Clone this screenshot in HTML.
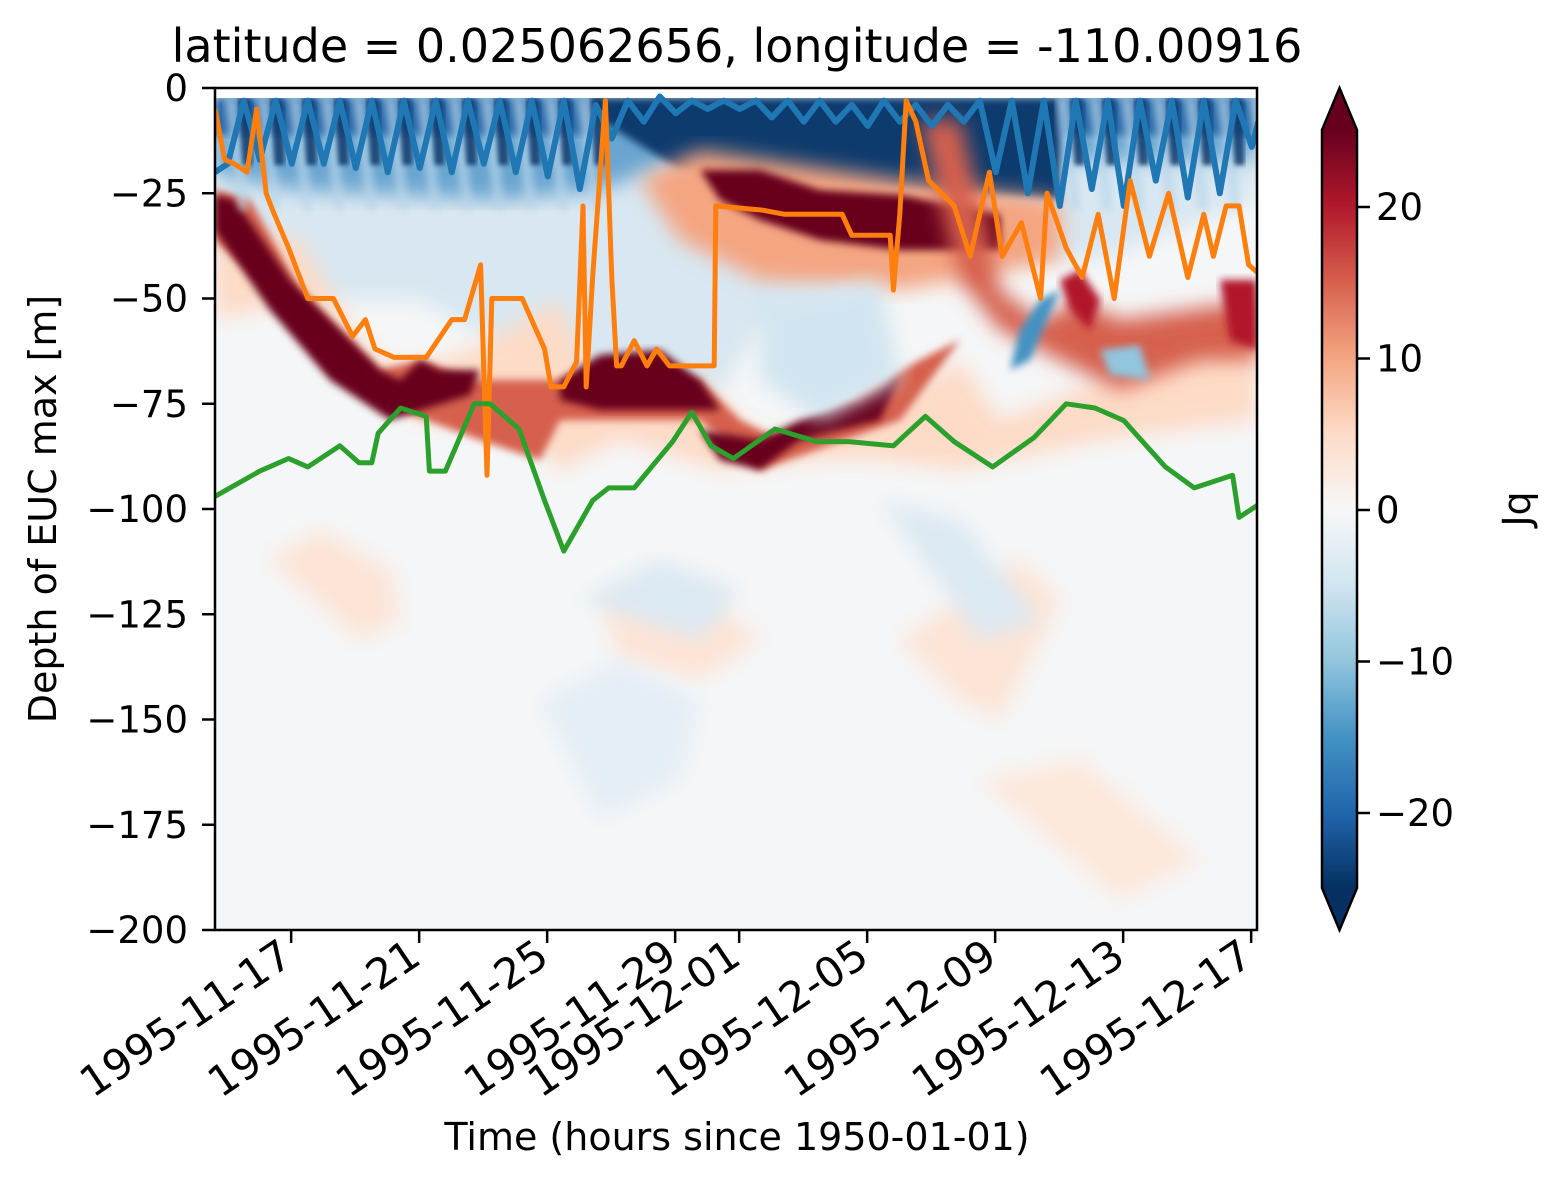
<!DOCTYPE html>
<html><head><meta charset="utf-8"><style>
html,body{margin:0;padding:0;background:#fff;}
svg text{font-family:"DejaVu Sans","Liberation Sans",sans-serif;fill:#000;}
</style></head><body>
<svg id="chart" width="1551" height="1186" viewBox="0 0 1551 1186" xmlns="http://www.w3.org/2000/svg">
<defs>
<filter id="blur4" x="-10%" y="-10%" width="120%" height="120%"><feGaussianBlur stdDeviation="4"/></filter>
<filter id="blur2" x="-10%" y="-10%" width="120%" height="120%"><feGaussianBlur stdDeviation="2"/></filter>
<filter id="blur10" x="-10%" y="-10%" width="120%" height="120%"><feGaussianBlur stdDeviation="10"/></filter>
<clipPath id="plotclip"><rect x="215" y="88" width="1042" height="842"/></clipPath>
<linearGradient id="cbgrad" x1="0" y1="0" x2="0" y2="1">
<stop offset="0" stop-color="#67001f"/><stop offset="0.1" stop-color="#b2182b"/><stop offset="0.2" stop-color="#d6604d"/><stop offset="0.3" stop-color="#f4a582"/><stop offset="0.4" stop-color="#fddbc7"/><stop offset="0.5" stop-color="#f7f7f7"/><stop offset="0.6" stop-color="#d1e5f0"/><stop offset="0.7" stop-color="#92c5de"/><stop offset="0.8" stop-color="#4393c3"/><stop offset="0.9" stop-color="#2166ac"/><stop offset="1" stop-color="#053061"/>
</linearGradient>
</defs>
<g id="heat" clip-path="url(#plotclip)"></g>
<g id="lines" clip-path="url(#plotclip)"></g>
<rect x="215" y="88" width="1042" height="842" fill="none" stroke="#000" stroke-width="2.5"/>
<g id="axes"></g>
<text x="737" y="62" font-size="46" text-anchor="middle">latitude = 0.025062656, longitude = -110.00916</text>
<text x="737" y="1150" font-size="38" text-anchor="middle">Time (hours since 1950-01-01)</text>
<text transform="translate(56,509) rotate(-90)" font-size="38" text-anchor="middle">Depth of EUC max [m]</text>
<g id="colorbar">
<rect x="1322" y="130" width="35" height="758" fill="url(#cbgrad)"/>
<polygon points="1322,130 1339.5,88 1357,130" fill="#67001f"/>
<polygon points="1322,888 1339.5,930 1357,888" fill="#053061"/>
<polygon points="1322,130 1339.5,88 1357,130 1357,888 1339.5,930 1322,888" fill="none" stroke="#000" stroke-width="2.5"/>
</g>
<text transform="translate(1530,509) rotate(-90)" font-size="38" text-anchor="middle">Jq</text>
</svg>
<script>
const xTickLabels = ["1995-11-17","1995-11-21","1995-11-25","1995-11-29","1995-12-01","1995-12-05","1995-12-09","1995-12-13","1995-12-17"];
const xTickDays = [2.38,6.38,10.38,14.38,16.38,20.38,24.38,28.38,32.38];
const yTicks = [0,-25,-50,-75,-100,-125,-150,-175,-200];
const cbTicks = [20,10,0,-10,-20];
const greenDays = [0,1.4,2.3,2.9,3.9,4.5,4.9,5.1,5.8,6.6,6.7,7.2,8.1,8.6,9.5,10.3,10.9,11.8,12.3,13.1,14.3,14.9,15.5,16.2,17.5,18.8,19.8,21.2,22.2,23.1,24.3,25.6,26.6,27.5,28.4,29.7,30.6,31.8,32.0,32.6];
const greenDepth = [-97,-91,-88,-90,-85,-89,-89,-82,-76,-78,-91,-91,-75,-75,-81,-98,-110,-98,-95,-95,-84,-77,-85,-88,-81,-84,-84,-85,-78,-84,-90,-83,-75,-76,-79,-90,-95,-92,-102,-99];
const orangeDays = [0,0.3,0.6,1.0,1.3,1.6,1.8,2.3,2.9,3.7,4.3,4.7,5.0,5.6,6.6,7.4,7.8,8.3,8.5,8.65,8.8,9.6,10.3,10.5,10.9,11.3,11.5,11.6,11.8,12.2,12.4,12.55,12.7,13.1,13.5,13.8,14.2,14.4,14.6,15.6,15.65,17.1,17.8,19.6,19.9,21.1,21.2,21.4,21.6,21.9,22.3,23.1,23.6,24.2,24.6,25.2,25.8,26.0,26.6,27.1,27.6,28.1,28.6,29.2,29.8,30.4,30.9,31.2,31.6,32.0,32.3,32.6];
const orangeDepth = [-5,-17,-18,-20,-5,-25,-29,-38,-50,-50,-59,-55,-62,-64,-64,-55,-55,-42,-92,-50,-50,-50,-62,-71,-71,-65,-28,-71,-45,-3,-45,-66,-66,-60,-66,-62,-66,-66,-66,-66,-28,-29,-30,-30,-35,-35,-48,-30,-3,-8,-22,-28,-40,-20,-40,-32,-50,-25,-38,-45,-30,-50,-22,-40,-25,-45,-30,-40,-28,-28,-42,-44];
const blueDays = [0,0.4,0.9,1.4,1.9,2.4,2.9,3.4,3.9,4.4,4.9,5.4,5.9,6.4,6.9,7.4,7.9,8.4,8.9,9.4,9.9,10.4,10.9,11.4,11.9,12.4,12.9,13.4,13.9,14.4,14.9,15.4,15.9,16.4,16.9,17.4,17.9,18.4,18.9,19.4,19.9,20.4,20.9,21.4,21.9,22.4,22.9,23.4,23.9,24.4,24.9,25.4,25.9,26.4,26.9,27.4,27.9,28.4,28.9,29.4,29.9,30.4,30.9,31.4,31.9,32.4,32.6];
const blueDepth = [-20,-18,-3,-17,-3,-18,-3,-18,-3,-19,-3,-20,-3,-19,-3,-20,-3,-18,-3,-20,-3,-21,-3,-24,-4,-12,-3,-8,-2,-6,-3,-5,-3,-5,-3,-7,-3,-8,-3,-8,-4,-9,-3,-8,-4,-9,-4,-8,-3,-20,-3,-25,-3,-28,-3,-24,-3,-28,-3,-22,-3,-26,-3,-25,-3,-14,-8];

const X0=215,X1=1257,Y0=88,Y1=930;
function xs(d){return X0+d*32;}
function ys(m){return Y0+(-m)/200*(Y1-Y0);}
function cbY(v){return 510-v*15.15;}
const NS="http://www.w3.org/2000/svg";
function mk(tag,attrs,parent){const e=document.createElementNS(NS,tag);for(const k in attrs)e.setAttribute(k,attrs[k]);parent.appendChild(e);return e;}

const heat=document.getElementById('heat');
mk('rect',{x:215,y:88,width:1042,height:842,fill:'#f5f6f7'},heat);
const blobs=[
 ['#d8e7f1','215,98 1257,98 1257,200 1100,260 900,250 760,330 700,420 560,380 420,300 300,300 215,260',10],
 ['#6aa5d0','215,98 1257,98 1257,160 1000,160 900,150 700,150 600,190 500,200 300,190 215,175',8],
 ['#0c3a6e','590,98 1060,98 1060,200 900,190 760,180 680,170 600,120',4],
 ['#2a6aaa','215,98 590,98 590,135 215,135',6],
 ['#2a6aaa','1060,98 1257,98 1257,135 1060,135',6],
 ['#fddbc7','215,225 300,240 360,340 400,370 470,350 560,300 590,380 700,380 760,440 860,420 960,360 1000,420 1257,320 1257,420 1100,440 960,470 880,460 820,460 720,470 620,440 560,470 520,430 420,420 300,300 215,320',10],
 ['#d6604d','215,190 250,200 300,290 380,370 420,360 470,380 560,380 600,370 700,380 740,420 780,440 920,360 960,340 900,420 760,470 700,420 560,420 540,460 480,440 400,410 330,370 260,280 215,240',6],
 ['#67001f','215,195 235,200 290,280 340,330 380,370 400,380 420,360 440,370 480,370 470,395 390,420 330,380 270,310 215,230',3],
 ['#67001f','560,380 600,355 660,350 700,380 720,410 600,410 560,400',3],
 ['#67001f','700,430 760,440 800,420 860,400 900,375 880,420 800,440 760,470 720,460',3],
 ['#f4a582','640,180 700,150 900,180 1060,200 1060,260 900,290 760,280 680,240',8],
 ['#67001f','700,170 760,170 820,190 900,195 1000,215 1000,250 900,250 820,240 760,220 720,200',4],
 ['#d6604d','920,120 960,120 1000,290 1040,320 1080,300 1120,320 1257,300 1257,360 1200,360 1120,390 1060,360 1000,330 960,280',8],
 ['#b2182b','1060,280 1080,270 1100,300 1090,330 1070,310',3],
 ['#b2182b','1220,280 1257,280 1257,350 1230,340',3],
 ['#d1e5f0','760,300 880,280 900,380 820,420 760,380',14],
 ['#4393c3','1020,330 1040,300 1060,290 1030,360 1010,370',3],
 ['#92c5de','1100,350 1140,345 1150,380 1110,375',4],
 ['#fde4d6','270,560 360,640 400,620 390,570 320,530',10],
 ['#fde4d6','600,600 700,590 760,640 700,680 620,660',10],
 ['#fde4d6','900,640 960,700 1000,720 1060,600 1020,560',12],
 ['#dbe9f3','580,600 660,560 740,590 700,640',12],
 ['#dbe9f3','880,500 960,520 1040,620 980,640',12],
 ['#e4eef6','540,700 620,660 700,700 680,780 600,820',14],
 ['#fde8dc','980,780 1080,760 1200,860 1120,900',14]
];
blobs.forEach(b=>{
 const p=mk('polygon',{points:b[1],fill:b[0],filter:b[2]>=8?'url(#blur10)':'url(#blur4)'},heat);
 
 
});
for(let d=0; d<33; d++){
 if(d>=12 && d<=25) continue;
 const x=xs(d+0.3);
 const s=mk('polygon',{points:(x)+',98 '+(x+12)+',98 '+(x+24)+',210 '+(x+14)+',210',fill:'#b9d6ea',opacity:'0.7',filter:'url(#blur4)'},heat);
 
 
 const k=mk('polygon',{points:(x+14)+',98 '+(x+26)+',98 '+(x+28)+',165 '+(x+18)+',165',fill:'#083466',opacity:'0.8',filter:'url(#blur2)'},heat);
 
 
}
mk('rect',{x:215,y:88,width:1042,height:10,fill:'#ffffff'},heat);

const lines=document.getElementById('lines');
function drawLine(days,depth,color,w,name){
 let d='';
 for(let i=0;i<days.length;i++){d+=(i?'L':'M')+xs(days[i]).toFixed(1)+','+ys(depth[i]).toFixed(1);}
 const p=mk('path',{d:d,fill:'none',stroke:color,'stroke-width':w,'stroke-linejoin':'round'},lines);
 
 
}
drawLine(blueDays,blueDepth,'#1f77b4',6,'mixed-layer-line');
drawLine(orangeDays,orangeDepth,'#ff7f0e',5,'orange-depth-line');
drawLine(greenDays,greenDepth,'#2ca02c',5,'euc-max-line');

const axes=document.getElementById('axes');
yTicks.forEach(v=>{
 const y=ys(v);
 const t=mk('line',{x1:215,x2:202,y1:y,y2:y,stroke:'#000','stroke-width':2.5},axes);
 
 
 const tx=mk('text',{x:188,y:y+13,'font-size':37,'text-anchor':'end'},axes);
 tx.textContent=(v<0?'\u2212'+(-v):String(v));
 
 
});
xTickDays.forEach((d,i)=>{
 const x=xs(d);
 const t=mk('line',{x1:x,x2:x,y1:930,y2:943,stroke:'#000','stroke-width':2.5},axes);
 
 
 const tx=mk('text',{transform:'translate('+(x+4)+',962) rotate(-34)','font-size':42,'text-anchor':'end'},axes);
 tx.textContent=xTickLabels[i];
 
 
});
cbTicks.forEach(v=>{
 const y=cbY(v);
 const t=mk('line',{x1:1357,x2:1370,y1:y,y2:y,stroke:'#000','stroke-width':2.5},axes);
 
 
 const tx=mk('text',{x:1376,y:y+13,'font-size':37},axes);
 tx.textContent=(v<0?'\u2212'+(-v):String(v));
 
 
});
</script>
</body></html>
